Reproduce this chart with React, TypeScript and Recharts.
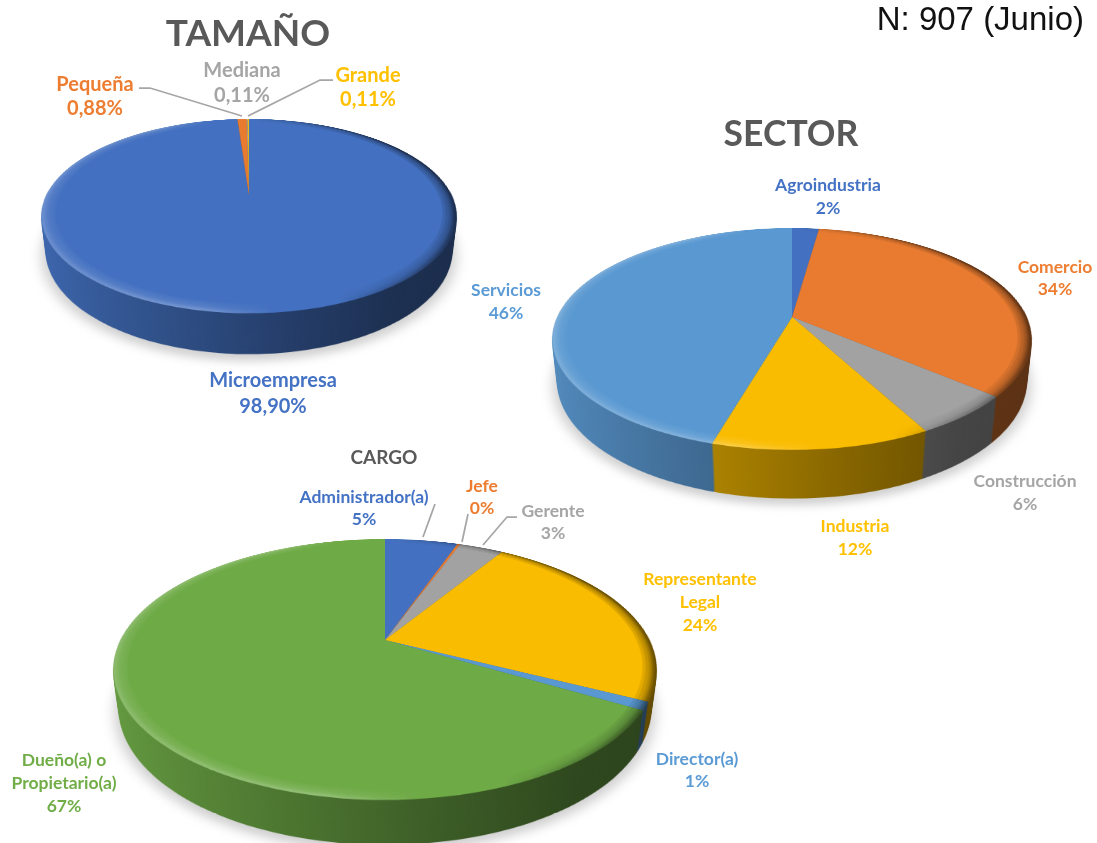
import { PieChart, Pie, Cell } from "recharts";

// Data
const tamanoCategories = ["Microempresa", "Pequeña", "Mediana", "Grande"];
const tamanoValues = [98.9, 0.88, 0.11, 0.11];
const sectorCategories = ["Agroindustria", "Comercio", "Construcción", "Industria", "Servicios"];
const sectorValues = [2.2, 34.1, 5.9, 12.25, 45.55];
const cargoCategories = ["Administrador(a)", "Jefe", "Gerente", "Representante\nLegal", "Director(a)", "Dueño(a) o\nPropietario(a)"];
const cargoValues = [5.4, 0.2, 3.25, 23.55, 1, 66.6];

const toRows = (names: string[], values: number[]) =>
  names.map((name, i) => ({ name, value: values[i] }));

const BLUE = "#4472C4";
const ORANGE = "#ED7D31";
const GREY = "#A5A5A5";
const YELLOW = "#FFC000";
const SKY = "#5B9BD5";
const GREEN = "#70AD47";
const LINE = "#A6A6A6";
const FONT = "Lato, 'Open Sans', sans-serif";

const sideStops = [0, 0.35, 0.6, 0.8, 1];
const sideMults = [0.9, 0.68, 0.52, 0.41, 0.38];

const shade = (hex: string, m: number) => {
  const n = parseInt(hex.slice(1), 16);
  const c = [n >> 16, (n >> 8) & 255, n & 255].map((v) => Math.round(v * m));
  return `rgb(${c[0]},${c[1]},${c[2]})`;
};

const PAD = 20;

type PieSpec = {
  id: string;
  rows: { name: string; value: number }[];
  colors: string[];
  cx: number;
  cy: number;
  radius: number;
  persp: number;
  tilt: number;
  depth: number;
};

const pies: PieSpec[] = [
  { id: "tam", rows: toRows(tamanoCategories, tamanoValues), colors: [BLUE, ORANGE, GREY, YELLOW], cx: 249, cy: 195, radius: 202.6, persp: 832, tilt: 62.8, depth: 40 },
  { id: "sec", rows: toRows(sectorCategories, sectorValues), colors: [BLUE, ORANGE, GREY, YELLOW, SKY], cx: 792, cy: 317, radius: 234.8, persp: 1057, tilt: 63, depth: 48 },
  { id: "car", rows: toRows(cargoCategories, cargoValues), colors: [BLUE, ORANGE, GREY, YELLOW, SKY, GREEN], cx: 384.5, cy: 640, radius: 264.5, persp: 1034, tilt: 62.1, depth: 44 },
];

const layerStyle = (p: PieSpec, z: number): React.CSSProperties => {
  const size = Math.ceil(p.radius) * 2 + PAD * 2;
  return {
    position: "absolute",
    left: p.cx - size / 2,
    top: p.cy - size / 2,
    width: size,
    height: size,
    transformOrigin: "50% 50%",
    transform: `perspective(${p.persp}px) rotateX(${p.tilt}deg) translateZ(${z}px)`,
  };
};

const Pie3D = ({ p }: { p: PieSpec }) => {
  const size = Math.ceil(p.radius) * 2 + PAD * 2;
  const center = size / 2;
  const common = {
    data: p.rows,
    dataKey: "value",
    nameKey: "name",
    cx: center,
    cy: center,
    startAngle: 90,
    endAngle: -270,
    stroke: "none",
    isAnimationActive: false,
    label: false,
    labelLine: false,
  };
  const layers: number[] = [];
  for (let z = p.depth; z >= 1; z--) layers.push(z);
  return (
    <>
      {/* soft floor shadow */}
      <div style={{ ...layerStyle(p, -p.depth - 3), filter: "blur(6px)" }}>
        <PieChart width={size} height={size} margin={{ top: 0, right: 0, bottom: 0, left: 0 }}>
          <Pie {...common} outerRadius={p.radius + 5} fill="#d0d0d0" />
        </PieChart>
      </div>
      {/* extruded side, painted back to front */}
      {layers.map((z) => (
        <div key={z} style={layerStyle(p, -z)}>
          <PieChart width={size} height={size} margin={{ top: 0, right: 0, bottom: 0, left: 0 }}>
            <defs>
              {p.colors.map((c, i) => (
                <linearGradient key={i} id={`${p.id}-side-${i}-${z}`} gradientUnits="userSpaceOnUse" x1={PAD} y1={0} x2={size - PAD} y2={0}>
                  {sideStops.map((s, j) => (
                    <stop key={j} offset={s} stopColor={shade(c, sideMults[j])} />
                  ))}
                </linearGradient>
              ))}
            </defs>
            <Pie {...common} outerRadius={p.radius}>
              {p.rows.map((_, i) => (
                <Cell key={i} fill={`url(#${p.id}-side-${i}-${z})`} />
              ))}
            </Pie>
          </PieChart>
        </div>
      ))}
      {/* top face and bevel rings */}
      <div style={layerStyle(p, 0)}>
        <PieChart width={size} height={size} margin={{ top: 0, right: 0, bottom: 0, left: 0 }}>
          <defs>
            <linearGradient id={`${p.id}-rim`} gradientUnits="userSpaceOnUse" x1={PAD} y1={size * 0.85} x2={size - PAD} y2={size * 0.7}>
              <stop offset={0} stopColor="#fff" stopOpacity={0.03} />
              <stop offset={0.38} stopColor="#fff" stopOpacity={0.04} />
              <stop offset={0.52} stopColor="#fff" stopOpacity={0} />
              <stop offset={0.64} stopColor="#000" stopOpacity={0} />
              <stop offset={0.82} stopColor="#000" stopOpacity={0.05} />
              <stop offset={1} stopColor="#000" stopOpacity={0.11} />
            </linearGradient>
          </defs>
          <Pie {...common} outerRadius={p.radius}>
            {p.rows.map((_, i) => (
              <Cell key={i} fill={shade(p.colors[i], 0.98)} />
            ))}
          </Pie>
          {[13, 10, 7, 5, 4, 3, 2, 1].map((w) => (
            <Pie key={w} {...common} innerRadius={p.radius - w} outerRadius={p.radius} fill={`url(#${p.id}-rim)`} />
          ))}
        </PieChart>
      </div>
    </>
  );
};

const fmt2 = (v: number) => v.toFixed(2).replace(".", ",") + "%";
const fmt0 = (v: number) => v.toFixed(0) + "%";

type LabelSpec = { text: string; color: string; x: number; y: number; size: number; lh?: number };

const labels: LabelSpec[] = [
  { text: "TAMAÑO", color: "#595959", x: 248, y: 10, size: 37 },
  { text: `${tamanoCategories[1]}\n${fmt2(tamanoValues[1])}`, color: ORANGE, x: 95, y: 71, size: 20, lh: 24 },
  { text: `${tamanoCategories[2]}\n${fmt2(tamanoValues[2])}`, color: GREY, x: 242, y: 57, size: 20, lh: 25 },
  { text: `${tamanoCategories[3]}\n${fmt2(tamanoValues[3])}`, color: YELLOW, x: 368, y: 62, size: 20, lh: 24 },
  { text: `${tamanoCategories[0]}\n${fmt2(tamanoValues[0])}`, color: BLUE, x: 273, y: 366, size: 20, lh: 26 },
  { text: "SECTOR", color: "#595959", x: 791, y: 112, size: 35.5 },
  { text: `${sectorCategories[0]}\n${fmt0(sectorValues[0])}`, color: BLUE, x: 828, y: 173, size: 17.5, lh: 23 },
  { text: `${sectorCategories[1]}\n${fmt0(sectorValues[1])}`, color: ORANGE, x: 1055, y: 256, size: 17.5, lh: 22 },
  { text: `${sectorCategories[2]}\n${fmt0(sectorValues[2])}`, color: GREY, x: 1025, y: 469, size: 17.5, lh: 23 },
  { text: `${sectorCategories[3]}\n${fmt0(sectorValues[3])}`, color: YELLOW, x: 855, y: 514, size: 17.5, lh: 23 },
  { text: `${sectorCategories[4]}\n${fmt0(sectorValues[4])}`, color: SKY, x: 506, y: 278, size: 17.5, lh: 23 },
  { text: "CARGO", color: "#595959", x: 384, y: 446, size: 19 },
  { text: `${cargoCategories[0]}\n${fmt0(cargoValues[0])}`, color: BLUE, x: 364, y: 486, size: 17.5, lh: 22 },
  { text: `${cargoCategories[1]}\n${fmt0(cargoValues[1])}`, color: ORANGE, x: 482, y: 475, size: 17.5, lh: 22 },
  { text: `${cargoCategories[2]}\n${fmt0(cargoValues[2])}`, color: GREY, x: 553, y: 500, size: 17.5, lh: 22 },
  { text: `${cargoCategories[3]}\n${fmt0(cargoValues[3])}`, color: YELLOW, x: 700, y: 567, size: 17.5, lh: 23 },
  { text: `${cargoCategories[4]}\n${fmt0(cargoValues[4])}`, color: SKY, x: 697, y: 748, size: 17.5, lh: 22 },
  { text: `${cargoCategories[5]}\n${fmt0(cargoValues[5])}`, color: GREEN, x: 64, y: 748, size: 17.5, lh: 23 },
];

const leaders = [
  "139,88 150,88 242,116",
  "333,80 320,80 248,116",
  "435,504 423,537",
  "468,514 462,542",
  "517,517 507,517 483,545",
];

export default function App() {
  return (
    <div style={{ position: "absolute", left: 0, top: 0, width: 1097, height: 843, overflow: "hidden", background: "#fff", fontFamily: FONT }}>
      {pies.map((p) => (
        <Pie3D key={p.id} p={p} />
      ))}
      <svg width={1097} height={843} style={{ position: "absolute", left: 0, top: 0 }}>
        {leaders.map((pts) => (
          <polyline key={pts} points={pts} fill="none" stroke={LINE} strokeWidth={1.75} />
        ))}
      </svg>
      {labels.map((l) => (
        <div
          key={l.text}
          style={{
            position: "absolute",
            left: l.x,
            top: l.y,
            transform: "translateX(-50%)",
            whiteSpace: "pre",
            textAlign: "center",
            color: l.color,
            fontSize: l.size,
            fontWeight: 700,
            lineHeight: `${l.lh ?? l.size * 1.2}px`,
          }}
        >
          {l.text}
        </div>
      ))}
      <div style={{ position: "absolute", right: 13, top: 0, color: "#111", fontFamily: "'Liberation Sans', sans-serif", fontSize: 33, whiteSpace: "nowrap" }}>
        N: 907 (Junio)
      </div>
    </div>
  );
}
